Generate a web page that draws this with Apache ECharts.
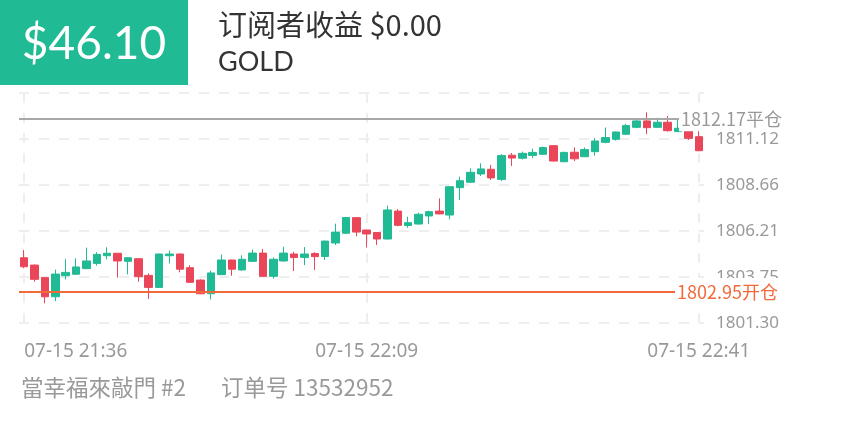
<!DOCTYPE html>
<html><head><meta charset="utf-8">
<script src="https://cdn.jsdelivr.net/npm/echarts@6/dist/echarts.min.js"></script>
<style>html,body{margin:0;padding:0;background:#fff;}#c{width:844px;height:422px;}</style>
</head><body><div id="c"></div>
<script>
const times = ['07-15 21:36','07-15 21:37','07-15 21:38','07-15 21:39','07-15 21:40','07-15 21:41','07-15 21:42','07-15 21:43','07-15 21:44','07-15 21:45','07-15 21:46','07-15 21:47','07-15 21:48','07-15 21:49','07-15 21:50','07-15 21:51','07-15 21:52','07-15 21:53','07-15 21:54','07-15 21:55','07-15 21:56','07-15 21:57','07-15 21:58','07-15 21:59','07-15 22:00','07-15 22:01','07-15 22:02','07-15 22:03','07-15 22:04','07-15 22:05','07-15 22:06','07-15 22:07','07-15 22:08','07-15 22:09','07-15 22:10','07-15 22:11','07-15 22:12','07-15 22:13','07-15 22:14','07-15 22:15','07-15 22:16','07-15 22:17','07-15 22:18','07-15 22:19','07-15 22:20','07-15 22:21','07-15 22:22','07-15 22:23','07-15 22:24','07-15 22:25','07-15 22:26','07-15 22:27','07-15 22:28','07-15 22:29','07-15 22:30','07-15 22:31','07-15 22:32','07-15 22:33','07-15 22:34','07-15 22:35','07-15 22:36','07-15 22:37','07-15 22:38','07-15 22:39','07-15 22:40','07-15 22:41'];
const opens  = [1804.78,1804.39,1803.72,1802.70,1803.82,1803.90,1804.20,1804.48,1804.89,1805.02,1804.59,1804.73,1803.84,1803.20,1804.89,1804.98,1804.25,1803.59,1802.86,1803.88,1804.66,1804.13,1804.59,1805.03,1803.79,1804.61,1804.98,1804.80,1805.01,1804.85,1805.57,1806.09,1806.92,1806.26,1806.13,1805.78,1807.27,1806.50,1806.58,1807.01,1807.27,1807.06,1808.52,1808.81,1809.25,1809.50,1808.96,1810.25,1810.09,1810.24,1810.30,1810.76,1809.90,1810.41,1810.17,1810.44,1810.94,1811.10,1811.37,1811.74,1812.08,1811.74,1812.01,1811.51,1811.69,1811.24];
const closes = [1804.30,1803.63,1802.70,1803.91,1804.00,1804.29,1804.61,1804.96,1805.02,1804.61,1804.78,1803.77,1803.20,1804.98,1804.98,1804.17,1803.47,1802.86,1803.97,1804.66,1804.17,1804.70,1805.03,1803.79,1804.70,1805.03,1804.79,1804.98,1804.84,1805.67,1806.15,1806.93,1806.15,1806.05,1805.78,1807.33,1806.51,1806.65,1807.10,1807.24,1807.12,1808.57,1808.89,1809.34,1809.52,1809.04,1810.23,1810.10,1810.35,1810.40,1810.66,1809.94,1810.40,1810.06,1810.55,1811.01,1811.19,1811.49,1811.83,1812.08,1811.72,1812.01,1811.56,1811.69,1811.15,1810.49];
const lows   = [1804.22,1803.50,1802.35,1802.47,1803.63,1803.88,1804.18,1804.36,1804.70,1803.72,1803.89,1803.50,1802.58,1803.18,1804.48,1804.00,1803.45,1802.84,1802.56,1803.86,1803.82,1804.09,1804.57,1803.77,1803.66,1804.57,1804.07,1804.39,1804.13,1804.66,1805.46,1806.07,1805.93,1805.33,1805.46,1805.76,1806.46,1806.38,1806.56,1806.58,1807.10,1806.83,1807.86,1808.79,1809.14,1808.93,1808.88,1809.68,1810.03,1810.09,1810.28,1809.92,1809.89,1809.94,1810.15,1810.23,1810.89,1811.03,1811.35,1811.69,1811.37,1811.72,1811.51,1811.49,1811.06,1810.47];
const highs  = [1805.19,1804.42,1803.74,1804.15,1804.70,1804.75,1805.32,1805.08,1805.34,1805.04,1804.80,1804.75,1803.95,1805.00,1805.16,1805.00,1804.38,1803.63,1804.09,1804.96,1804.68,1804.91,1805.21,1805.25,1804.80,1805.37,1805.10,1805.35,1805.07,1805.69,1806.60,1806.95,1806.94,1806.28,1806.15,1807.56,1807.37,1806.97,1807.18,1807.29,1807.95,1808.59,1809.10,1809.55,1809.82,1809.73,1810.31,1810.37,1810.44,1810.60,1810.71,1810.78,1810.44,1810.67,1810.67,1811.16,1811.73,1811.51,1811.92,1812.17,1812.54,1812.25,1812.34,1812.17,1811.71,1811.69];
const labelIndices = [0, 33, 65];
const yMin = 1801.30, yMax = 1813.57, yStep = 2.454;
const openPrice = 1802.95, closePrice = 1812.17;
const profitText = '$46.10';
const titleText = '订阅者收益 $0.00';
const symbolText = 'GOLD';
const traderText = '當幸福來敲門 #2';
const orderText = '订单号 13532952';

const GREEN = '#20ba94', RED = '#ea4659';
const chart = echarts.init(document.getElementById('c'), null, {renderer: 'canvas'});
const candles = opens.map((o, i) => [o, closes[i], lows[i], highs[i]]);
const showIdx = (i) => labelIndices.indexOf(i) >= 0;

chart.setOption({
  animation: false,
  backgroundColor: '#fff',
  grid: {left: 19, right: 140, top: 93, bottom: 99, containLabel: false},
  xAxis: {
    type: 'category', data: times, boundaryGap: true,
    axisLine: {show: false}, axisTick: {show: false},
    axisLabel: {interval: showIdx, color: '#999', fontSize: 19, fontFamily: 'Noto Sans', margin: 19, alignMinLabel: 'left'},
    splitLine: {show: true, interval: showIdx, alignWithLabel: true, lineStyle: {color: '#eeeeee', width: 2, type: [10, 10]}}
  },
  yAxis: {
    type: 'value', position: 'right', min: yMin, max: yMax, interval: yStep, scale: true,
    axisLine: {show: false}, axisTick: {show: false},
    axisLabel: {color: '#999', fontSize: 17, fontFamily: 'Noto Sans', margin: 12, showMaxLabel: false,
      formatter: (v) => v.toFixed(2)},
    splitLine: {show: true, lineStyle: {color: '#eeeeee', width: 2, type: [10, 10]}}
  },
  series: [{
    type: 'candlestick', data: candles, barWidth: 8,
    itemStyle: {color: GREEN, color0: RED, borderColor: GREEN, borderColor0: RED, borderWidth: 1},
    markLine: {
      symbol: 'none', silent: true,
      data: [
        {yAxis: closePrice, lineStyle: {color: '#a8a8a8', width: 2, type: 'solid'},
         label: {show: true, position: 'end', formatter: closePrice.toFixed(2) + '平仓', color: '#999', fontSize: 18,
                 fontFamily: 'Noto Sans CJK SC', backgroundColor: '#fff', padding: [3, 2], offset: [-30, 0]}},
        {yAxis: openPrice, lineStyle: {color: '#f26a3a', width: 2, type: 'solid'},
         label: {show: true, position: 'end', formatter: openPrice.toFixed(2) + '开仓', color: '#f26a3a', fontSize: 18,
                 fontFamily: 'Noto Sans CJK SC', backgroundColor: '#fff', padding: [5, 2], offset: [-34, 0]}}
      ]
    }
  }],
  graphic: [
    {type: 'rect', left: 0, top: 0, shape: {width: 188, height: 85}, style: {fill: GREEN}},
    {type: 'text', x: 94, y: 44, style: {text: profitText, fill: '#fff', fontSize: 46, fontFamily: 'Lato', align: 'center', verticalAlign: 'middle'}},
    {type: 'text', x: 218, y: 25, style: {text: titleText, fill: '#333', fontSize: 29, fontFamily: '"Noto Sans CJK SC"', align: 'left', verticalAlign: 'middle'}},
    {type: 'text', x: 218, y: 62, style: {text: symbolText, fill: '#333', fontSize: 27, fontFamily: 'Lato', align: 'left', verticalAlign: 'middle'}},
    {type: 'text', x: 21, y: 387, style: {text: traderText, fill: '#999', fontSize: 22.5, fontFamily: '"Noto Sans CJK SC"', align: 'left', verticalAlign: 'middle'}},
    {type: 'text', x: 221, y: 387, style: {text: orderText, fill: '#999', fontSize: 22.5, fontFamily: '"Noto Sans CJK SC"', align: 'left', verticalAlign: 'middle'}}
  ]
});
</script></body></html>
